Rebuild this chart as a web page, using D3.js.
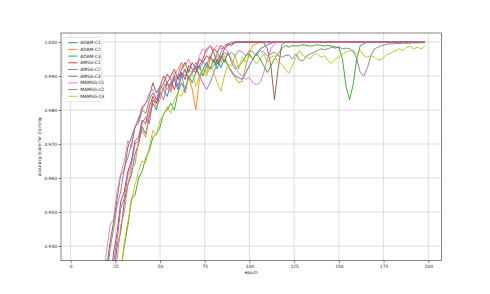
<!DOCTYPE html>
<html>
<head>
<meta charset="utf-8">
<script src="https://cdn.jsdelivr.net/npm/d3@7"></script>
<style>
body{margin:0;background:#fff;}
text{font-family:"DejaVu Sans",sans-serif;fill:#222;}
</style>
</head>
<body>
<svg id="mainSVG" width="490" height="294"></svg>
<script>
var $svg = d3.select("#mainSVG");

// epochs sampled every 2 (earlier epochs sit below the visible range)
var epochs = d3.range(16, 200, 2);

var seriesNames = ['ADAM-C1','ADAM-C2','ADAM-C3','AMSG-C1','AMSG-C2','AMSG-C3','MAMSG-C1','MAMSG-C2','MAMSG-C3'];
var seriesColors = ['#1f77b4','#ff7f0e','#2ca02c','#d62728','#9467bd','#8c564b','#e377c2','#7f7f7f','#bcbd22'];

var adamC1 = [
  0.900,0.908,0.916,0.922,0.931,0.940,0.944,0.953,0.958,0.961,
  0.967,0.970,0.975,0.973,0.978,0.982,0.980,0.985,0.986,0.984,
  0.988,0.989,0.986,0.990,0.992,0.989,0.991,0.993,0.990,0.992,
  0.994,0.992,0.993,0.995,0.9925,0.995,0.993,0.9915,0.990,0.9895,
  0.989,0.991,0.993,0.995,0.9967,0.998,0.9986,0.9992,0.9996,1.000,
  1,1,1,1,1,1,1,1,1,1,
  1,1,1,1,1,1,1,1,1,1,
  1,1,1,1,1,1,1,1,1,1,
  1,1,1,1,1,1,1,1,1,1,
  1,1];
var adamC2 = [
  0.900,0.906,0.911,0.919,0.927,0.936,0.946,0.950,0.958,0.963,
  0.964,0.971,0.974,0.972,0.979,0.983,0.981,0.983,0.987,0.988,
  0.985,0.990,0.992,0.994,0.991,0.990,0.986,0.980,0.989,0.992,
  0.991,0.995,0.994,0.996,0.994,0.996,0.993,0.991,0.9895,0.988,
  0.9885,0.993,0.997,0.999,0.9995,1,1,1,1,1,
  1,1,1,1,1,1,1,1,1,1,
  1,1,1,1,1,1,1,1,1,1,
  1,1,1,1,1,1,1,1,1,1,
  1,1,1,1,1,1,1,1,1,1,
  1,1];
var adamC3 = [
  0.900,0.905,0.910,0.915,0.920,0.925,0.933,0.940,0.946,0.954,
  0.955,0.960,0.962,0.966,0.968,0.972,0.973,0.975,0.979,0.980,
  0.982,0.980,0.985,0.988,0.986,0.990,0.988,0.991,0.993,0.990,
  0.993,0.992,0.995,0.992,0.996,0.994,0.997,0.994,0.992,0.993,
  0.994,0.996,0.9965,0.995,0.9967,0.995,0.993,0.991,0.993,0.995,
  0.9965,0.998,0.999,0.9985,0.999,0.9988,0.999,0.9992,0.999,0.9988,
  0.999,0.9992,0.999,0.9988,0.999,0.9988,0.9985,0.9985,0.995,0.987,
  0.983,0.9875,0.995,0.999,0.9995,1,1,1,1,1,
  1,1,1,1,1,1,1,1,1,1,
  1,1];
var amsgC1 = [
  0.905,0.913,0.921,0.927,0.938,0.944,0.953,0.956,0.962,0.965,
  0.971,0.972,0.977,0.976,0.981,0.984,0.982,0.986,0.988,0.9905,
  0.989,0.986,0.990,0.991,0.989,0.993,0.992,0.991,0.995,0.994,
  0.996,0.995,0.998,0.997,0.999,0.998,0.9995,0.999,1,1,
  1,1,1,1,1,1,1,1,1,1,
  1,1,1,1,1,1,1,1,1,1,
  1,1,1,1,1,1,1,1,1,1,
  1,1,1,1,1,1,1,1,1,1,
  1,1,1,1,1,1,1,1,1,1,
  1,1];
var amsgC2 = [
  0.902,0.911,0.917,0.927,0.935,0.942,0.951,0.954,0.961,0.964,
  0.970,0.971,0.976,0.978,0.976,0.983,0.982,0.985,0.983,0.988,
  0.986,0.990,0.987,0.991,0.985,0.990,0.991,0.9925,0.990,0.988,
  0.986,0.988,0.991,0.994,0.997,0.999,0.9995,1,1,1,
  1,1,1,1,1,1,1,1,1,1,
  1,1,1,1,1,1,1,1,1,1,
  1,1,1,1,1,1,1,1,1,1,
  1,1,1,1,1,1,1,1,1,1,
  1,1,1,1,1,1,1,1,1,1,
  1,1];
var amsgC3 = [
  0.920,0.927,0.933,0.941,0.947,0.954,0.961,0.962,0.969,0.972,
  0.975,0.977,0.981,0.982,0.984,0.988,0.985,0.987,0.990,0.988,
  0.990,0.992,0.989,0.992,0.994,0.991,0.994,0.992,0.993,0.995,
  0.998,0.9988,0.997,0.9935,0.995,0.998,0.999,0.9995,0.9998,1,
  1,1,1,1,1,1,0.9998,0.998,0.993,0.983,
  0.992,0.999,1,1,1,1,1,1,1,1,
  1,1,1,1,1,1,1,1,1,1,
  1,1,1,1,1,1,1,1,1,1,
  1,1,1,1,1,1,1,1,1,1,
  1,1];
var mamsgC1 = [
  0.925,0.931,0.938,0.946,0.948,0.956,0.961,0.965,0.971,0.969,
  0.975,0.978,0.980,0.982,0.985,0.986,0.983,0.986,0.988,0.986,
  0.988,0.991,0.990,0.994,0.993,0.995,0.992,0.992,0.996,0.998,
  0.997,0.999,0.998,0.999,0.998,0.9985,0.997,0.995,0.993,0.991,
  0.990,0.989,0.9895,0.988,0.9875,0.988,0.991,0.995,0.998,0.9995,
  1,1,1,1,1,1,1,1,1,1,
  1,1,1,1,1,1,1,1,1,1,
  1,1,1,1,1,1,1,1,1,1,
  1,1,1,1,1,1,1,1,1,1,
  1,1];
var mamsgC2 = [
  0.918,0.926,0.930,0.939,0.945,0.952,0.956,0.963,0.966,0.970,
  0.975,0.976,0.980,0.979,0.983,0.985,0.983,0.987,0.986,0.988,
  0.987,0.990,0.989,0.991,0.990,0.992,0.991,0.994,0.992,0.994,
  0.993,0.996,0.994,0.997,0.995,0.997,0.996,0.997,0.996,0.9975,
  0.997,0.996,0.9975,0.997,0.996,0.9975,0.997,0.996,0.9965,0.997,
  0.996,0.9955,0.996,0.9962,0.995,0.9965,0.9947,0.9945,0.996,0.9965,
  0.997,0.9975,0.998,0.9978,0.998,0.9985,0.9982,0.9985,0.998,0.9982,
  0.998,0.9975,0.995,0.991,0.990,0.9925,0.996,0.998,0.9985,0.999,
  0.9992,0.9995,0.9994,0.9996,0.9995,0.9997,0.9996,0.9997,0.9998,0.9997,
  0.9998,0.9998];
var mamsgC3 = [
  0.900,0.905,0.910,0.915,0.920,0.925,0.931,0.941,0.947,0.953,
  0.958,0.962,0.965,0.9645,0.969,0.974,0.9725,0.977,0.9785,0.981,
  0.979,0.983,0.985,0.984,0.987,0.989,0.991,0.987,0.990,0.992,
  0.990,0.993,0.991,0.988,0.9855,0.990,0.9935,0.993,0.996,0.992,
  0.9955,0.994,0.996,0.995,0.9935,0.995,0.9965,0.994,0.9955,0.996,
  0.994,0.9935,0.992,0.9908,0.993,0.9955,0.9975,0.996,0.9955,0.995,
  0.9965,0.9965,0.9955,0.996,0.9945,0.9937,0.995,0.9955,0.9965,0.997,
  0.9975,0.997,0.9965,0.9975,0.996,0.9955,0.996,0.9955,0.9947,0.995,
  0.996,0.9965,0.997,0.9975,0.998,0.9975,0.9985,0.9987,0.998,0.9985,
  0.998,0.9987];

var seriesValues = [adamC1, adamC2, adamC3, amsgC1, amsgC2, amsgC3, mamsgC1, mamsgC2, mamsgC3];

var xTicks = [0, 25, 50, 75, 100, 125, 150, 175, 200];
var yTicks = [0.940, 0.950, 0.960, 0.970, 0.980, 0.990, 1.000];

// plot box
var boxL = 61, boxR = 441.3, boxT = 33, boxB = 260.7;
var fontSize = 4.4;

var x = d3.scaleLinear().domain([-5.4, 207.3]).range([boxL, boxR]);
var y = d3.scaleLinear().domain([0.93568, 1.00265]).range([boxB, boxT]);

$svg.append('defs').append('clipPath').attr('id','plotClip')
    .append('rect')
    .attr('x',boxL).attr('y',boxT)
    .attr('width',boxR-boxL).attr('height',boxB-boxT);

// Grid
var $grid = $svg.append('g').attr('id','grid');
$grid.selectAll('line.gx').data(xTicks).enter().append('line')
    .attr('x1',d=>x(d)).attr('x2',d=>x(d))
    .attr('y1',boxT).attr('y2',boxB)
    .attr('stroke','#c8c8c8').attr('stroke-width',0.6);
$grid.selectAll('line.gy').data(yTicks).enter().append('line')
    .attr('y1',d=>y(d)).attr('y2',d=>y(d))
    .attr('x1',boxL).attr('x2',boxR)
    .attr('stroke','#c8c8c8').attr('stroke-width',0.6);

// Lines
var line = d3.line()
    .x((d,i)=>x(epochs[i]))
    .y(d=>y(d));

$svg.append('g').attr('id','lines')
    .attr('clip-path','url(#plotClip)')
    .selectAll('path').data(seriesValues)
    .enter().append('path')
    .attr('d',d=>line(d))
    .attr('fill','none')
    .attr('stroke',(d,i)=>seriesColors[i])
    .attr('stroke-width',0.9)
    .attr('stroke-linejoin','round');

// Axes
var xAxis = d3.axisBottom(x).tickValues(xTicks).tickSize(2.5).tickPadding(1.5);
var yAxis = d3.axisLeft(y).tickValues(yTicks).tickFormat(d3.format('.3f')).tickSize(2.5).tickPadding(1.5);

var $xa = $svg.append('g').attr('transform',`translate(0 ${boxB})`).call(xAxis);
var $ya = $svg.append('g').attr('transform',`translate(${boxL} 0)`).call(yAxis);
[$xa,$ya].forEach($a=>{
    $a.select('.domain').remove();
    $a.selectAll('line').attr('stroke','#333').attr('stroke-width',0.6);
    $a.selectAll('text').attr('font-size',fontSize).attr('fill','#222')
        .attr('font-family','"DejaVu Sans", sans-serif');
});

// Frame
$svg.append('rect')
    .attr('x',boxL).attr('y',boxT)
    .attr('width',boxR-boxL).attr('height',boxB-boxT)
    .attr('fill','none').attr('stroke','#333').attr('stroke-width',0.6);

// Axis labels
$svg.append('text')
    .attr('x',(boxL+boxR)/2).attr('y',274)
    .attr('text-anchor','middle')
    .attr('font-size',fontSize)
    .text('epoch');

$svg.append('text')
    .attr('transform',`translate(40.5 ${(boxT+boxB)/2}) rotate(-90)`)
    .attr('text-anchor','middle')
    .attr('font-size',fontSize)
    .text('accuracy score for training');

// Legend
var lgX = 62.6, lgY = 37.4, lgRow = 6.7;
var $legend = $svg.append('g').attr('id','legend');
$legend.append('rect')
    .attr('x',lgX).attr('y',lgY)
    .attr('width',39).attr('height',64.2)
    .attr('rx',1.2).attr('ry',1.2)
    .attr('fill','rgba(255,255,255,0.8)')
    .attr('stroke','#d0d0d0').attr('stroke-width',0.5);

var $items = $legend.selectAll('g.item').data(seriesNames)
    .enter().append('g')
    .attr('transform',(d,i)=>`translate(${lgX} ${lgY+5.3+i*lgRow})`);
$items.append('line')
    .attr('x1',5.6).attr('x2',15)
    .attr('stroke',(d,i)=>seriesColors[i])
    .attr('stroke-width',0.9);
$items.append('text')
    .attr('x',17.6).attr('y',1.5)
    .attr('font-size',fontSize)
    .text(d=>d);
</script>
</body>
</html>
